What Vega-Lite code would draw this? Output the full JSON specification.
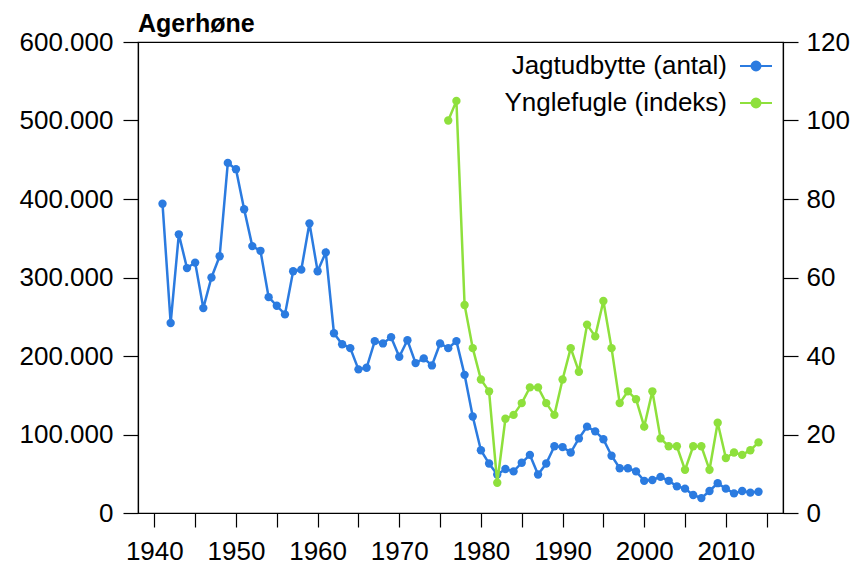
{
  "$schema": "https://vega.github.io/schema/vega-lite/v6.json",
  "autosize": "none",
  "width": 645,
  "height": 471,
  "padding": {"left": 138, "top": 42, "right": 70, "bottom": 54},
  "background": "white",
  "title": {"text": "Agerhøne", "anchor": "start", "frame": "group", "font": "Liberation Sans", "fontSize": 25, "fontWeight": "bold", "color": "black", "baseline": "alphabetic", "offset": -28},
  "config": {
    "view": {"stroke": "black", "strokeWidth": 1.2},
    "axis": {"grid": false, "domainColor": "black", "domainWidth": 1.2, "tickColor": "black", "tickWidth": 1.2, "labelFont": "Liberation Sans", "labelFontSize": 26, "labelColor": "black", "title": null}
  },
  "data": {"values": [
    {"year": 1941, "serie": "Jagtudbytte (antal)", "v": 394000},
    {"year": 1942, "serie": "Jagtudbytte (antal)", "v": 242000},
    {"year": 1943, "serie": "Jagtudbytte (antal)", "v": 355000},
    {"year": 1944, "serie": "Jagtudbytte (antal)", "v": 312000},
    {"year": 1945, "serie": "Jagtudbytte (antal)", "v": 319000},
    {"year": 1946, "serie": "Jagtudbytte (antal)", "v": 261000},
    {"year": 1947, "serie": "Jagtudbytte (antal)", "v": 300000},
    {"year": 1948, "serie": "Jagtudbytte (antal)", "v": 327000},
    {"year": 1949, "serie": "Jagtudbytte (antal)", "v": 446000},
    {"year": 1950, "serie": "Jagtudbytte (antal)", "v": 438000},
    {"year": 1951, "serie": "Jagtudbytte (antal)", "v": 387000},
    {"year": 1952, "serie": "Jagtudbytte (antal)", "v": 340000},
    {"year": 1953, "serie": "Jagtudbytte (antal)", "v": 334000},
    {"year": 1954, "serie": "Jagtudbytte (antal)", "v": 275000},
    {"year": 1955, "serie": "Jagtudbytte (antal)", "v": 264000},
    {"year": 1956, "serie": "Jagtudbytte (antal)", "v": 253000},
    {"year": 1957, "serie": "Jagtudbytte (antal)", "v": 308000},
    {"year": 1958, "serie": "Jagtudbytte (antal)", "v": 310000},
    {"year": 1959, "serie": "Jagtudbytte (antal)", "v": 369000},
    {"year": 1960, "serie": "Jagtudbytte (antal)", "v": 308000},
    {"year": 1961, "serie": "Jagtudbytte (antal)", "v": 332000},
    {"year": 1962, "serie": "Jagtudbytte (antal)", "v": 229000},
    {"year": 1963, "serie": "Jagtudbytte (antal)", "v": 215000},
    {"year": 1964, "serie": "Jagtudbytte (antal)", "v": 210000},
    {"year": 1965, "serie": "Jagtudbytte (antal)", "v": 183000},
    {"year": 1966, "serie": "Jagtudbytte (antal)", "v": 185000},
    {"year": 1967, "serie": "Jagtudbytte (antal)", "v": 219000},
    {"year": 1968, "serie": "Jagtudbytte (antal)", "v": 216000},
    {"year": 1969, "serie": "Jagtudbytte (antal)", "v": 224000},
    {"year": 1970, "serie": "Jagtudbytte (antal)", "v": 199000},
    {"year": 1971, "serie": "Jagtudbytte (antal)", "v": 220000},
    {"year": 1972, "serie": "Jagtudbytte (antal)", "v": 191000},
    {"year": 1973, "serie": "Jagtudbytte (antal)", "v": 197000},
    {"year": 1974, "serie": "Jagtudbytte (antal)", "v": 188000},
    {"year": 1975, "serie": "Jagtudbytte (antal)", "v": 216000},
    {"year": 1976, "serie": "Jagtudbytte (antal)", "v": 210000},
    {"year": 1977, "serie": "Jagtudbytte (antal)", "v": 219000},
    {"year": 1978, "serie": "Jagtudbytte (antal)", "v": 176000},
    {"year": 1979, "serie": "Jagtudbytte (antal)", "v": 123000},
    {"year": 1980, "serie": "Jagtudbytte (antal)", "v": 80000},
    {"year": 1981, "serie": "Jagtudbytte (antal)", "v": 63000},
    {"year": 1982, "serie": "Jagtudbytte (antal)", "v": 49000},
    {"year": 1983, "serie": "Jagtudbytte (antal)", "v": 56000},
    {"year": 1984, "serie": "Jagtudbytte (antal)", "v": 53000},
    {"year": 1985, "serie": "Jagtudbytte (antal)", "v": 64000},
    {"year": 1986, "serie": "Jagtudbytte (antal)", "v": 74000},
    {"year": 1987, "serie": "Jagtudbytte (antal)", "v": 49000},
    {"year": 1988, "serie": "Jagtudbytte (antal)", "v": 63000},
    {"year": 1989, "serie": "Jagtudbytte (antal)", "v": 85000},
    {"year": 1990, "serie": "Jagtudbytte (antal)", "v": 84000},
    {"year": 1991, "serie": "Jagtudbytte (antal)", "v": 77000},
    {"year": 1992, "serie": "Jagtudbytte (antal)", "v": 95000},
    {"year": 1993, "serie": "Jagtudbytte (antal)", "v": 110000},
    {"year": 1994, "serie": "Jagtudbytte (antal)", "v": 104000},
    {"year": 1995, "serie": "Jagtudbytte (antal)", "v": 94000},
    {"year": 1996, "serie": "Jagtudbytte (antal)", "v": 73000},
    {"year": 1997, "serie": "Jagtudbytte (antal)", "v": 57000},
    {"year": 1998, "serie": "Jagtudbytte (antal)", "v": 57000},
    {"year": 1999, "serie": "Jagtudbytte (antal)", "v": 53000},
    {"year": 2000, "serie": "Jagtudbytte (antal)", "v": 41000},
    {"year": 2001, "serie": "Jagtudbytte (antal)", "v": 42000},
    {"year": 2002, "serie": "Jagtudbytte (antal)", "v": 46000},
    {"year": 2003, "serie": "Jagtudbytte (antal)", "v": 41000},
    {"year": 2004, "serie": "Jagtudbytte (antal)", "v": 34000},
    {"year": 2005, "serie": "Jagtudbytte (antal)", "v": 31000},
    {"year": 2006, "serie": "Jagtudbytte (antal)", "v": 23000},
    {"year": 2007, "serie": "Jagtudbytte (antal)", "v": 19000},
    {"year": 2008, "serie": "Jagtudbytte (antal)", "v": 28000},
    {"year": 2009, "serie": "Jagtudbytte (antal)", "v": 38000},
    {"year": 2010, "serie": "Jagtudbytte (antal)", "v": 31000},
    {"year": 2011, "serie": "Jagtudbytte (antal)", "v": 25000},
    {"year": 2012, "serie": "Jagtudbytte (antal)", "v": 28000},
    {"year": 2013, "serie": "Jagtudbytte (antal)", "v": 26000},
    {"year": 2014, "serie": "Jagtudbytte (antal)", "v": 27000},
    {"year": 1976, "serie": "Ynglefugle (indeks)", "v": 100},
    {"year": 1977, "serie": "Ynglefugle (indeks)", "v": 105},
    {"year": 1978, "serie": "Ynglefugle (indeks)", "v": 53},
    {"year": 1979, "serie": "Ynglefugle (indeks)", "v": 42},
    {"year": 1980, "serie": "Ynglefugle (indeks)", "v": 34},
    {"year": 1981, "serie": "Ynglefugle (indeks)", "v": 31},
    {"year": 1982, "serie": "Ynglefugle (indeks)", "v": 7.7},
    {"year": 1983, "serie": "Ynglefugle (indeks)", "v": 24},
    {"year": 1984, "serie": "Ynglefugle (indeks)", "v": 25},
    {"year": 1985, "serie": "Ynglefugle (indeks)", "v": 28},
    {"year": 1986, "serie": "Ynglefugle (indeks)", "v": 32},
    {"year": 1987, "serie": "Ynglefugle (indeks)", "v": 32},
    {"year": 1988, "serie": "Ynglefugle (indeks)", "v": 28},
    {"year": 1989, "serie": "Ynglefugle (indeks)", "v": 25},
    {"year": 1990, "serie": "Ynglefugle (indeks)", "v": 34},
    {"year": 1991, "serie": "Ynglefugle (indeks)", "v": 42},
    {"year": 1992, "serie": "Ynglefugle (indeks)", "v": 36},
    {"year": 1993, "serie": "Ynglefugle (indeks)", "v": 48},
    {"year": 1994, "serie": "Ynglefugle (indeks)", "v": 45},
    {"year": 1995, "serie": "Ynglefugle (indeks)", "v": 54},
    {"year": 1996, "serie": "Ynglefugle (indeks)", "v": 42},
    {"year": 1997, "serie": "Ynglefugle (indeks)", "v": 28},
    {"year": 1998, "serie": "Ynglefugle (indeks)", "v": 31},
    {"year": 1999, "serie": "Ynglefugle (indeks)", "v": 29},
    {"year": 2000, "serie": "Ynglefugle (indeks)", "v": 22},
    {"year": 2001, "serie": "Ynglefugle (indeks)", "v": 31},
    {"year": 2002, "serie": "Ynglefugle (indeks)", "v": 19},
    {"year": 2003, "serie": "Ynglefugle (indeks)", "v": 17},
    {"year": 2004, "serie": "Ynglefugle (indeks)", "v": 17},
    {"year": 2005, "serie": "Ynglefugle (indeks)", "v": 11},
    {"year": 2006, "serie": "Ynglefugle (indeks)", "v": 17},
    {"year": 2007, "serie": "Ynglefugle (indeks)", "v": 17},
    {"year": 2008, "serie": "Ynglefugle (indeks)", "v": 11},
    {"year": 2009, "serie": "Ynglefugle (indeks)", "v": 23},
    {"year": 2010, "serie": "Ynglefugle (indeks)", "v": 14},
    {"year": 2011, "serie": "Ynglefugle (indeks)", "v": 15.4},
    {"year": 2012, "serie": "Ynglefugle (indeks)", "v": 14.8},
    {"year": 2013, "serie": "Ynglefugle (indeks)", "v": 16},
    {"year": 2014, "serie": "Ynglefugle (indeks)", "v": 18}
  ]},
  "encoding": {
    "x": {"field": "year", "type": "quantitative",
      "scale": {"domain": [1938, 2017], "nice": false, "zero": false},
      "axis": {"values": [1940, 1945, 1950, 1955, 1960, 1965, 1970, 1975, 1980, 1985, 1990, 1995, 2000, 2005, 2010, 2015],
        "labelExpr": "datum.value % 10 == 0 ? format(datum.value, 'd') : ''", "tickSize": 14, "labelPadding": 11, "labelOverlap": false, "labelFlush": false}},
    "color": {"field": "serie", "type": "nominal",
      "scale": {"domain": ["Jagtudbytte (antal)", "Ynglefugle (indeks)"], "range": ["#2b7be0", "#8ee03c"]},
      "legend": {"title": null, "orient": "top-right", "offset": 4, "padding": 3, "labelFont": "Liberation Sans", "labelFontSize": 26, "labelColor": "black", "labelAlign": "right", "labelOffset": -46, "labelLimit": 500, "rowPadding": 7,
        "symbolType": "M-1,0H1M-0.28,0A0.28,0.28,0,1,0,0.28,0A0.28,0.28,0,1,0,-0.28,0Z", "symbolSize": 1024, "symbolStrokeWidth": 2,
        "encode": {"symbols": {"update": {"fill": {"scale": "color", "field": "value"}, "stroke": {"scale": "color", "field": "value"}}}}}}
  },
  "layer": [
    {
      "transform": [{"filter": "datum.serie == 'Jagtudbytte (antal)'"}],
      "mark": {"type": "line", "strokeWidth": 2.5, "point": {"filled": true, "size": 70}},
      "encoding": {
        "y": {"field": "v", "type": "quantitative", "scale": {"domain": [0, 600000], "nice": false},
          "axis": {"orient": "left", "values": [0, 100000, 200000, 300000, 400000, 500000, 600000], "labelExpr": "datum.value == 0 ? '0' : format(datum.value / 1000, 'd') + '.000'", "tickSize": 15, "labelPadding": 10}}
      }
    },
    {
      "transform": [{"filter": "datum.serie == 'Ynglefugle (indeks)'"}],
      "mark": {"type": "line", "strokeWidth": 2.5, "point": {"filled": true, "size": 70}},
      "encoding": {
        "y": {"field": "v", "type": "quantitative", "scale": {"domain": [0, 120], "nice": false},
          "axis": {"orient": "right", "values": [0, 20, 40, 60, 80, 100, 120], "tickSize": 15, "labelPadding": 8}}
      }
    }
  ],
  "resolve": {"scale": {"y": "independent"}}
}
